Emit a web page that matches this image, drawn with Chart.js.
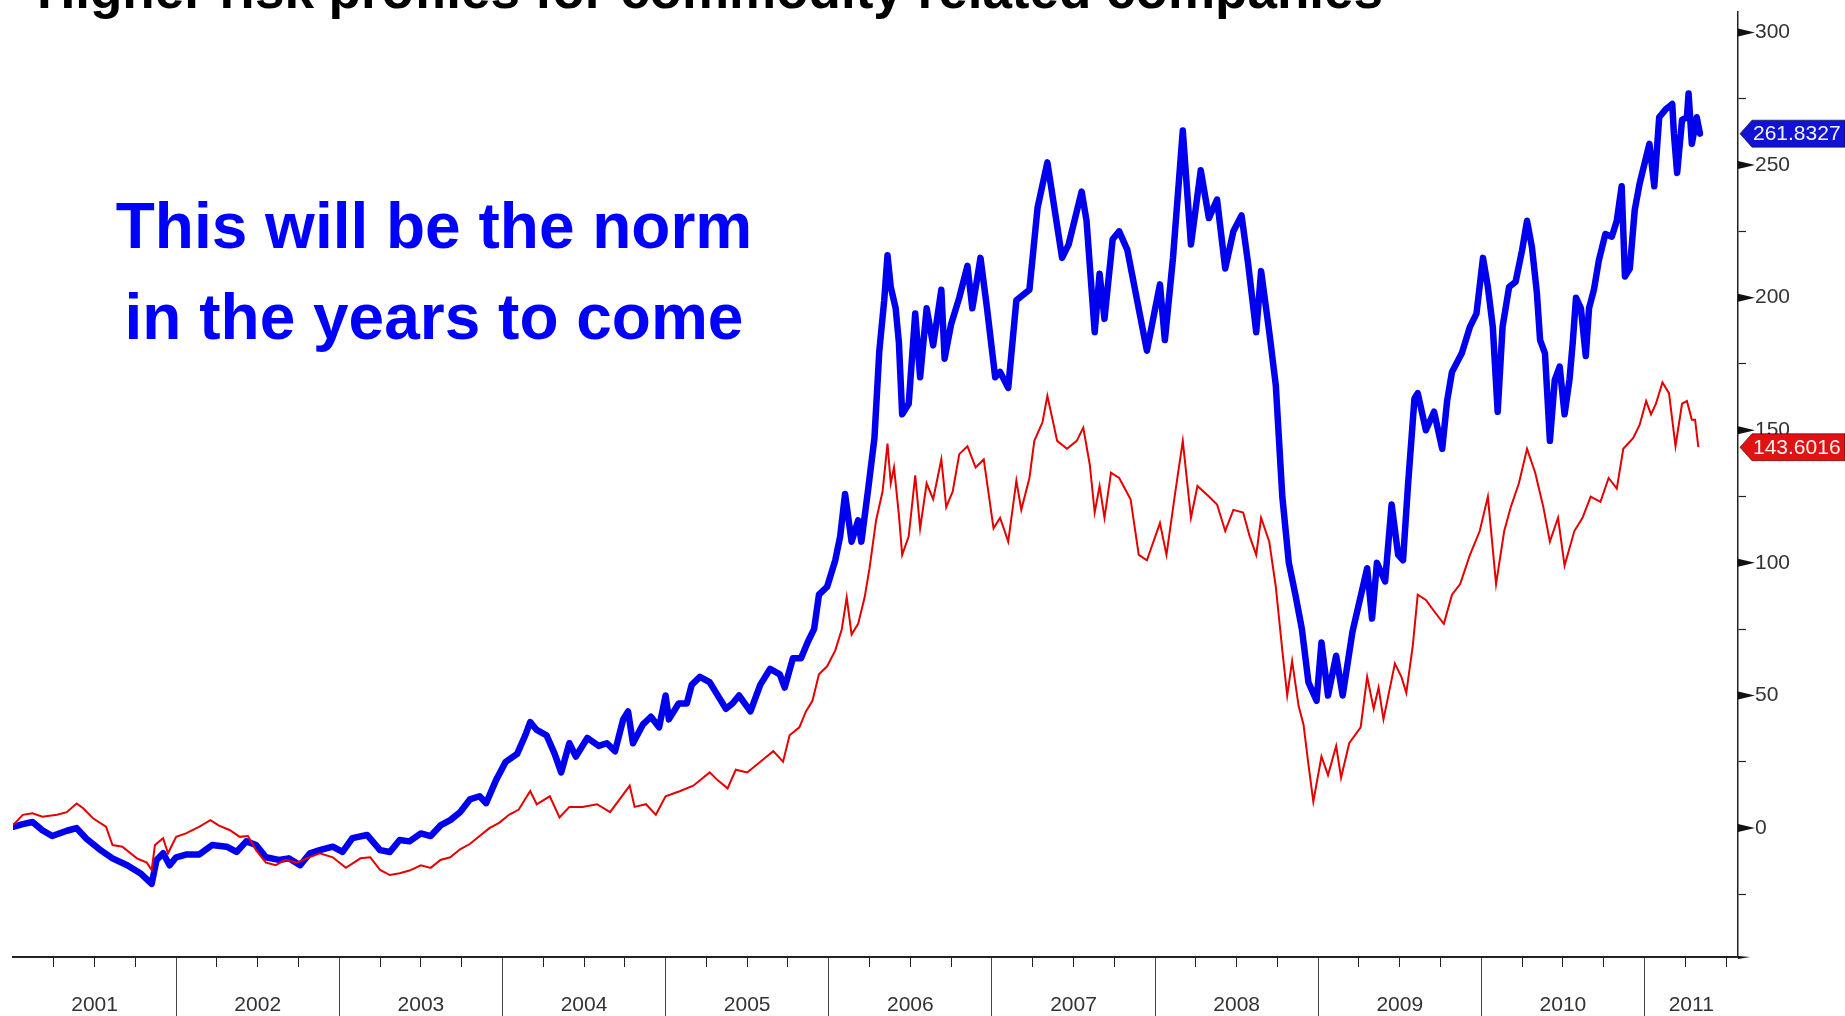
<!DOCTYPE html>
<html>
<head>
<meta charset="utf-8">
<title>Higher risk profiles for commodity related companies</title>
<script src="https://cdn.jsdelivr.net/npm/chart.js@4.4.1/dist/chart.umd.min.js"></script>
<style>
  html, body { margin: 0; padding: 0; background: #fff; overflow: hidden; }
  #wrap { position: relative; width: 1845px; height: 1016px; overflow: hidden; background: #fff; }
  #chart { position: absolute; left: 0; top: 0; }
  .title {
    position: absolute; left: 37px; top: -37px; white-space: nowrap;
    font: bold 53px/53px "Liberation Sans", Arial, sans-serif; color: #000;
  }
  .note {
    position: absolute; left: 34px; top: 181px; width: 800px; text-align: center;
    font: bold 64px/91px "Liberation Sans", Arial, sans-serif; color: #0000ff;
  }
</style>
</head>
<body>
<div id="wrap">
  <canvas id="chart" width="1845" height="1016"></canvas>
  <div class="title">Higher risk profiles for commodity related companies</div>
  <div class="note">This will be the norm<br>in the years to come</div>
</div>
<script>
// Rebased index levels (0 = start of 2001), x in fractional years

// high-risk commodity names (thick blue)
const blueYears = [
  2001.00, 2001.06, 2001.12, 2001.18, 2001.24, 2001.33, 2001.39, 2001.45, 2001.53, 2001.61,
  2001.70, 2001.78, 2001.85, 2001.88, 2001.92, 2001.96, 2002.00, 2002.06, 2002.14, 2002.22,
  2002.31, 2002.37, 2002.43, 2002.49, 2002.55, 2002.63, 2002.69, 2002.76, 2002.82, 2002.88,
  2002.96, 2003.02, 2003.08, 2003.17, 2003.25, 2003.31, 2003.37, 2003.43, 2003.50, 2003.56,
  2003.62, 2003.68, 2003.74, 2003.80, 2003.86, 2003.90, 2003.96, 2004.02, 2004.09, 2004.14,
  2004.17, 2004.21, 2004.27, 2004.32, 2004.36, 2004.41, 2004.45, 2004.52, 2004.59, 2004.64,
  2004.69, 2004.74, 2004.77, 2004.80, 2004.86, 2004.91, 2004.96, 2005.00, 2005.02, 2005.08,
  2005.13, 2005.16, 2005.21, 2005.27, 2005.31, 2005.37, 2005.41, 2005.45, 2005.52, 2005.58,
  2005.64, 2005.70, 2005.73, 2005.78, 2005.83, 2005.87, 2005.91, 2005.94, 2005.99, 2006.04,
  2006.07, 2006.10, 2006.14, 2006.18, 2006.20, 2006.24, 2006.28, 2006.31, 2006.34, 2006.36,
  2006.38, 2006.41, 2006.43, 2006.45, 2006.49, 2006.53, 2006.56, 2006.60, 2006.64, 2006.69,
  2006.71, 2006.75, 2006.80, 2006.85, 2006.88, 2006.93, 2006.97, 2007.02, 2007.05, 2007.10,
  2007.15, 2007.23, 2007.28, 2007.34, 2007.43, 2007.47, 2007.55, 2007.58, 2007.63, 2007.66,
  2007.69, 2007.74, 2007.78, 2007.83, 2007.89, 2007.95, 2008.03, 2008.06, 2008.11, 2008.17,
  2008.22, 2008.28, 2008.33, 2008.38, 2008.43, 2008.48, 2008.53, 2008.57, 2008.62, 2008.65,
  2008.70, 2008.74, 2008.78, 2008.82, 2008.86, 2008.90, 2008.94, 2008.99, 2009.02, 2009.06,
  2009.11, 2009.15, 2009.21, 2009.30, 2009.33, 2009.36, 2009.41, 2009.45, 2009.49, 2009.52,
  2009.55, 2009.59, 2009.61, 2009.66, 2009.71, 2009.76, 2009.79, 2009.82, 2009.88, 2009.93,
  2009.97, 2010.01, 2010.04, 2010.07, 2010.10, 2010.13, 2010.17, 2010.21, 2010.25, 2010.28,
  2010.31, 2010.34, 2010.36, 2010.39, 2010.42, 2010.45, 2010.48, 2010.51, 2010.54, 2010.56,
  2010.58, 2010.61, 2010.64, 2010.66, 2010.69, 2010.72, 2010.76, 2010.80, 2010.83, 2010.86,
  2010.88, 2010.91, 2010.94, 2010.97, 2011.01, 2011.03, 2011.06, 2011.09, 2011.13, 2011.17,
  2011.18, 2011.20, 2011.23, 2011.26, 2011.27, 2011.29, 2011.32, 2011.34
];
const blueVals = [
  0.5, 1.5, 2.3, -0.8, -3, -1, 0, -4, -8, -11.4,
  -14, -17, -21, -12, -9.5, -14, -11, -10, -10, -6.4,
  -7, -9, -5, -6.4, -11, -12, -11.4, -14, -9.5, -8.3,
  -7, -9, -3.8, -2.6, -8.3, -9, -4.5, -5, -2, -3,
  1, 3, 6, 10.8, 12, 9.4, 18, 25, 28, 35,
  40, 37, 35, 28, 21, 32, 27, 34, 31, 32,
  29, 41, 44, 32, 39, 42, 38, 50, 41, 47,
  47, 54, 57, 55, 51, 45, 47, 50, 44, 54,
  60, 58, 53, 64, 64, 70, 75, 88, 91, 101,
  110, 126, 108, 116, 108, 127, 147, 180, 199, 216,
  204, 196, 183, 156, 160, 194, 170, 196, 182, 203,
  177, 190, 200, 212, 196, 215, 196, 170, 172, 166,
  199, 203, 234, 251, 215, 220, 240, 229, 187, 209,
  192, 222, 225, 218, 199, 180, 205, 184, 215, 263,
  220, 248, 230, 237, 211, 225, 231, 213, 187, 210,
  187, 167, 125, 100, 88, 75, 55, 48, 70, 50,
  65, 50, 74, 98, 79, 100, 93, 122, 103, 101,
  129, 162, 164, 150, 157, 143, 161, 172, 179, 189,
  194, 215, 204, 189, 157, 189, 204, 206, 218, 229,
  219, 202, 184, 179, 146, 169, 174, 156, 169, 183,
  200, 196, 178, 196, 203, 214, 224, 223, 229, 242,
  208, 211, 233, 243, 253, 258, 242, 268, 271, 273,
  262, 247, 267, 268, 277, 258, 268, 261.8327
];

// broad commodity index (thin red)
const redYears = [
  2001.00, 2001.06, 2001.12, 2001.18, 2001.27, 2001.33, 2001.39, 2001.43, 2001.49, 2001.57,
  2001.61, 2001.67, 2001.76, 2001.82, 2001.85, 2001.87, 2001.92, 2001.95, 2002.00, 2002.06,
  2002.14, 2002.21, 2002.26, 2002.33, 2002.39, 2002.44, 2002.49, 2002.55, 2002.61, 2002.67,
  2002.74, 2002.80, 2002.88, 2002.96, 2003.04, 2003.13, 2003.19, 2003.25, 2003.31, 2003.37,
  2003.43, 2003.50, 2003.56, 2003.62, 2003.68, 2003.74, 2003.80, 2003.86, 2003.92, 2003.98,
  2004.04, 2004.10, 2004.17, 2004.21, 2004.29, 2004.35, 2004.41, 2004.49, 2004.58, 2004.66,
  2004.72, 2004.78, 2004.81, 2004.88, 2004.94, 2005.00, 2005.09, 2005.17, 2005.27, 2005.32,
  2005.38, 2005.43, 2005.50, 2005.56, 2005.62, 2005.66, 2005.72, 2005.76, 2005.82, 2005.86,
  2005.90, 2005.94, 2005.99, 2006.04, 2006.08, 2006.11, 2006.14, 2006.18, 2006.22, 2006.25,
  2006.29, 2006.33, 2006.36, 2006.38, 2006.40, 2006.43, 2006.45, 2006.49, 2006.53, 2006.56,
  2006.60, 2006.64, 2006.69, 2006.72, 2006.76, 2006.80, 2006.85, 2006.90, 2006.95, 2007.01,
  2007.05, 2007.10, 2007.15, 2007.18, 2007.23, 2007.26, 2007.31, 2007.34, 2007.40, 2007.46,
  2007.52, 2007.56, 2007.60, 2007.63, 2007.66, 2007.69, 2007.73, 2007.78, 2007.85, 2007.90,
  2007.95, 2008.03, 2008.07, 2008.12, 2008.17, 2008.22, 2008.26, 2008.33, 2008.38, 2008.43,
  2008.48, 2008.54, 2008.58, 2008.62, 2008.65, 2008.70, 2008.74, 2008.78, 2008.81, 2008.84,
  2008.88, 2008.91, 2008.94, 2008.97, 2009.02, 2009.06, 2009.11, 2009.14, 2009.19, 2009.26,
  2009.30, 2009.34, 2009.37, 2009.40, 2009.47, 2009.51, 2009.54, 2009.58, 2009.61, 2009.66,
  2009.72, 2009.77, 2009.82, 2009.87, 2009.93, 2009.99, 2010.04, 2010.09, 2010.14, 2010.18,
  2010.23, 2010.28, 2010.33, 2010.38, 2010.42, 2010.47, 2010.51, 2010.57, 2010.62, 2010.67,
  2010.73, 2010.78, 2010.83, 2010.87, 2010.93, 2010.97, 2011.01, 2011.04, 2011.07, 2011.11,
  2011.15, 2011.19, 2011.23, 2011.26, 2011.29, 2011.31, 2011.33
];
const redVals = [
  1.1, 5, 5.6, 4.3, 5, 6, 9.3, 7.5, 3.7, 0.5,
  -6.4, -7, -11.4, -13, -15.8, -6.4, -3.8, -9.5, -3.3, -2,
  0.5, 3, 1, -0.8, -3.3, -3, -8.3, -13, -14, -12,
  -13, -11.4, -9.5, -11, -15, -11.4, -11, -15.8, -17.7, -17,
  -16, -14, -15, -12, -11, -8, -6, -3, 0, 2,
  5, 7, 14, 9, 12, 4, 8, 8, 9, 6,
  11, 16, 8, 9, 5, 12, 14, 16, 21, 18,
  15, 22, 21, 24, 27, 29, 25, 35, 38, 44,
  48, 58, 61, 67, 75, 87, 73, 77, 87, 98,
  116, 127, 145, 130, 136, 118, 103, 110, 133, 113,
  130, 124, 139, 121, 127, 141, 144, 136, 139, 113,
  117, 108, 131, 120, 132, 146, 153, 163, 146, 143,
  146, 151, 137, 119, 129, 117, 134, 132, 124, 103,
  101, 115, 103, 125, 146, 117, 129, 125, 122, 112,
  120, 119, 110, 103, 117, 108, 91, 67, 50, 63,
  46, 39, 24, 10, 27, 20, 31, 19, 32, 38,
  57, 45, 53, 41, 62, 57, 51, 69, 88, 86,
  81, 77, 88, 92, 103, 112, 125, 92, 112, 121,
  130, 143, 134, 121, 108, 117, 99, 112, 117, 125,
  123, 132, 128, 143, 147, 152, 161, 156, 160, 168,
  164, 144, 160, 161, 154, 154, 143.6016
];

const yearLabels = ['2001', '2002', '2003', '2004', '2005', '2006', '2007', '2008', '2009', '2010', '2011'];
const yTickValues = [-25, 0, 25, 50, 75, 100, 125, 150, 175, 200, 225, 250, 275, 300];

const X_MIN = 2001, X_MAX = 2011.573;
const Y_MIN = -48.6, Y_MAX = 307.7;
const FONT = '"Liberation Sans", Arial, sans-serif';

// year labels sit in the middle of each (possibly partial) year
const labelCenters = yearLabels.map(l => {
  const y = Number(l);
  return (Math.max(y, X_MIN) + Math.min(y + 1, X_MAX)) / 2;
});

const near = (a, b) => Math.abs(a - b) < 1e-6;
const isYear = v => near(v, Math.round(v));
const isQuarter = v => near(v * 4, Math.round(v * 4));

function toPoints(xs, ys) {
  return xs.map((x, i) => ({ x, y: ys[i] }));
}

// keep the plot area exactly where the layout padding puts it
function noEdgePadding(scale) {
  scale.paddingTop = 0;
  scale.paddingBottom = 0;
  scale.paddingLeft = 0;
  scale.paddingRight = 0;
}

// arrow-head major ticks on the value axis plus last-value tags
const axisDecor = {
  id: 'axisDecor',
  afterDraw(chart) {
    const { ctx, scales: { x, y } } = chart;
    const x0 = y.left;
    ctx.save();
    ctx.fillStyle = '#111';
    y.ticks.forEach(t => {
      if (t.value % 50 !== 0) return;
      const py = y.getPixelForValue(t.value);
      ctx.beginPath();
      ctx.moveTo(x0, py - 4);
      ctx.lineTo(x0 + 17, py);
      ctx.lineTo(x0, py + 4);
      ctx.closePath();
      ctx.fill();
    });

    // small arrow where the time axis runs past the value axis
    ctx.beginPath();
    ctx.moveTo(x0, x.top - 1);
    ctx.lineTo(x0 + 12, x.top);
    ctx.lineTo(x0, x.top + 2);
    ctx.closePath();
    ctx.fill();

    const tags = [
      { vals: blueVals, fill: '#1212d6' },
      { vals: redVals, fill: '#e01212' },
    ];
    const right = chart.width;
    tags.forEach(tag => {
      const v = tag.vals[tag.vals.length - 1];
      const py = y.getPixelForValue(v);
      const h = 13.5;
      ctx.beginPath();
      ctx.moveTo(x0 + 2, py);
      ctx.lineTo(x0 + 14, py - h);
      ctx.lineTo(right, py - h);
      ctx.lineTo(right, py + h);
      ctx.lineTo(x0 + 14, py + h);
      ctx.closePath();
      ctx.fillStyle = tag.fill;
      ctx.fill();
      ctx.strokeStyle = 'rgba(0,0,0,0.55)';
      ctx.lineWidth = 1;
      ctx.stroke();
      ctx.fillStyle = '#f4f4f4';
      ctx.font = '21px ' + FONT;
      ctx.textAlign = 'left';
      ctx.textBaseline = 'middle';
      ctx.fillText(v.toFixed(4), x0 + 15, py + 1);
    });
    ctx.restore();
  }
};

new Chart(document.getElementById('chart'), {
  type: 'line',
  data: {
    datasets: [
      {
        label: 'High risk commodity companies',
        data: toPoints(blueYears, blueVals),
        borderColor: '#0000ee',
        borderWidth: 6.5,
        borderJoinStyle: 'round',
        borderCapStyle: 'round',
        pointRadius: 0,
        tension: 0,
        order: 1,
      },
      {
        label: 'Commodity index',
        data: toPoints(redYears, redVals),
        borderColor: '#e50000',
        borderWidth: 2,
        pointRadius: 0,
        tension: 0,
        order: 0,
      },
    ],
  },
  options: {
    responsive: false,
    devicePixelRatio: 1,
    animation: false,
    layout: { padding: { left: 13, top: 12, right: 0, bottom: 0 } },
    plugins: {
      legend: { display: false },
      tooltip: { enabled: false },
    },
    scales: {
      x: {
        type: 'linear',
        position: 'bottom',
        min: X_MIN,
        max: X_MAX,
        afterBuildTicks(scale) {
          const vals = [];
          for (let q = X_MIN + 0.25; q < X_MAX; q += 0.25) vals.push(Math.round(q * 100) / 100);
          labelCenters.forEach(c => { if (!vals.some(v => near(v, c))) vals.push(c); });
          vals.sort((a, b) => a - b);
          scale.ticks = vals.map(v => ({ value: v }));
        },
        afterFit(scale) {
          scale.height = 59;
          noEdgePadding(scale);
        },
        border: { display: true, color: '#222', width: 2 },
        grid: {
          drawOnChartArea: false,
          drawTicks: true,
          tickLength: 60,
          tickWidth: 1,
          tickColor: ctx => {
            const v = ctx.tick ? ctx.tick.value : null;
            if (v == null) return 'transparent';
            if (isYear(v)) return '#444';
            return isQuarter(v) ? '#222' : 'transparent';
          },
          tickBorderDash: ctx => {
            const v = ctx.tick ? ctx.tick.value : 0;
            return isYear(v) ? [] : [9, 200];
          },
        },
        ticks: {
          autoSkip: false,
          maxRotation: 0,
          padding: -24,
          color: '#333',
          font: { family: FONT, size: 21 },
          callback: value => {
            const i = labelCenters.findIndex(c => near(c, value));
            return i >= 0 ? yearLabels[i] : '';
          },
        },
      },
      y: {
        type: 'linear',
        position: 'right',
        min: Y_MIN,
        max: Y_MAX,
        afterBuildTicks(scale) {
          scale.ticks = yTickValues.map(v => ({ value: v }));
        },
        afterFit(scale) {
          scale.width = 107;
          noEdgePadding(scale);
        },
        border: { display: true, color: '#222', width: 1.5 },
        grid: {
          drawOnChartArea: false,
          drawTicks: true,
          tickLength: 8,
          tickWidth: 1.2,
          tickColor: ctx => (ctx.tick && ctx.tick.value % 50 === 0 ? 'transparent' : '#222'),
        },
        ticks: {
          autoSkip: false,
          padding: 9,
          color: '#333',
          font: { family: FONT, size: 21 },
          callback: value => (value % 50 === 0 ? String(value) : ''),
        },
      },
    },
  },
  plugins: [axisDecor],
});
</script>
</body>
</html>
